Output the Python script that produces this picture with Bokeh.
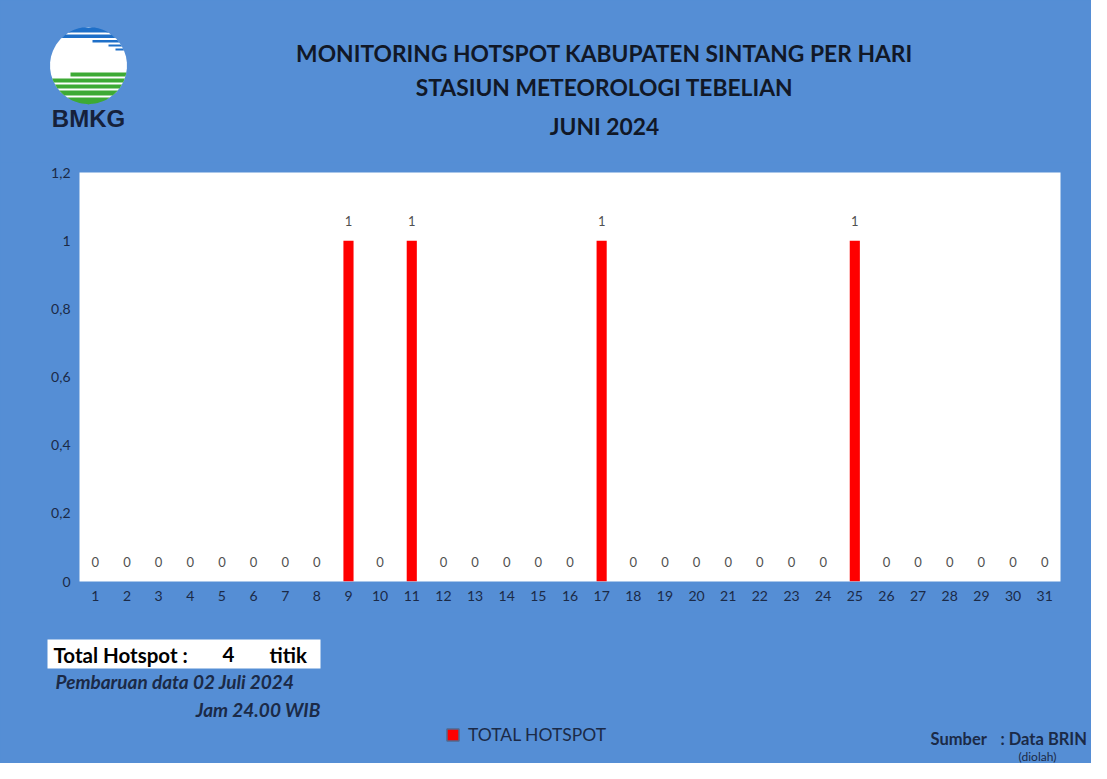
import numpy as np
from bokeh.plotting import figure
from bokeh.layouts import column
from bokeh.models import (ColumnDataSource, Range1d, FactorRange, FixedTicker, LabelSet,
                          Legend, LegendItem)
from bokeh.core.properties import value
from bokeh.embed import file_html
from bokeh.resources import INLINE

# ---------------- data ----------------
days = [str(d) for d in range(1, 32)]
hotspots = [0, 0, 0, 0, 0, 0, 0, 0, 1, 0, 1, 0, 0, 0, 0, 0, 1, 0, 0, 0,
            0, 0, 0, 0, 1, 0, 0, 0, 0, 0, 0]
y_ticks = [0, 0.2, 0.4, 0.6, 0.8, 1.0, 1.2]
y_tick_labels = ["0", "0,2", "0,4", "0,6", "0,8", "1", "1,2"]
title_lines = ["MONITORING HOTSPOT KABUPATEN SINTANG PER HARI",
               "STASIUN METEOROLOGI TEBELIAN",
               "JUNI 2024"]
series_name = "TOTAL HOTSPOT"
update_text = "Pembaruan data 02 Juli 2024"
time_text = "Jam 24.00 WIB"
total_hotspot = sum(hotspots)

BG = "#558ED5"
NAVY = "#1B2A47"
FONT = "Lato"
W = 1091

def deco_fig(y0, y1):
    f = figure(width=W, height=y1 - y0, output_backend="svg", toolbar_location=None,
               x_range=Range1d(8, 8 + W), y_range=Range1d(y1, y0),
               x_axis_location=None, y_axis_location=None, frame_align=False,
               min_border=0, min_border_left=0, min_border_right=0,
               min_border_top=0, min_border_bottom=0)
    f.background_fill_color = BG
    f.border_fill_color = BG
    f.outline_line_color = None
    f.grid.grid_line_color = None
    return f

def txt(f, x, y, s, size, style="normal", align="left", color=NAVY, font=FONT):
    f.text(x=[x], y=[y], text=[s], text_align=align, text_baseline="middle",
           text_font=value(font), text_font_style=style, text_font_size=size,
           text_color=color)

# ---------------- top: logo + titles ----------------
top = deco_fig(8, 170)
cx, cy, r = 96, 73, 38.5
def band(f, y1, y2, color, xmin=None):
    ys = np.linspace(y1, y2, 14)
    half = np.sqrt(np.clip(r**2 - (ys - cy)**2, 0, None))
    xl = cx - half
    if xmin is not None:
        xl = np.maximum(xl, xmin)
    xr = cx + half
    f.patch(list(xl) + list(xr[::-1]), list(ys) + list(ys[::-1]),
            fill_color=color, line_color=None)

band(top, cy - r, cy + r, "white")
band(top, 35, 40, "#1E6FC8")
band(top, 42, 45.5, "#1E6FC8")
band(top, 47.5, 50, "#1E6FC8", xmin=100)
band(top, 52, 54, "#1E6FC8", xmin=116)
band(top, 56, 58, "#1E6FC8", xmin=123)
for y1, y2, xm in [(80, 84, 78), (86, 90, None), (92, 96, None), (98, 103, None), (105, 112, None)]:
    band(top, y1, y2, "#3DAA35", xmin=xm)
txt(top, 96, 126, "BMKG", "24px", "bold", "center", "#16213A", "Liberation Sans")

for s, Y in zip(title_lines, [60, 94, 133]):
    txt(top, 612, Y, s, "22.8px", "bold", "center", "#111827")

# ---------------- main chart ----------------
FL, FR, FT, FBm = 79, 31, 10, 31
p = figure(width=W, height=620 - 170, output_backend="svg", toolbar_location=None,
           x_range=FactorRange(*days, range_padding=0), y_range=Range1d(0, 1.2),
           frame_align=False,
           min_border_left=FL, min_border_right=FR, min_border_top=FT, min_border_bottom=FBm)
p.background_fill_color = "white"
p.border_fill_color = BG
p.outline_line_color = None
p.grid.grid_line_color = None

src = ColumnDataSource(dict(day=days, val=hotspots, txt=[str(v) for v in hotspots]))
bars = p.vbar(x="day", top="val", width=0.32, source=src, fill_color="#FF0000", line_color=None)

p.add_layout(LabelSet(x="day", y="val", text="txt", source=src, y_offset=20,
                      text_align="center", text_baseline="middle", text_font=value(FONT),
                      text_font_size="13px", text_color="#505050"))

p.yaxis.ticker = FixedTicker(ticks=y_ticks)
p.yaxis.major_label_overrides = {t: l for t, l in zip(y_ticks, y_tick_labels)}
for ax in (p.xaxis[0], p.yaxis[0]):
    ax.axis_line_color = None
    ax.major_tick_line_color = None
    ax.minor_tick_line_color = None
    ax.major_tick_out = 0
    ax.major_tick_in = 0
    ax.major_label_text_font = FONT
    ax.major_label_text_font_size = "14px"
    ax.major_label_text_color = NAVY
p.yaxis.major_label_standoff = 9
p.xaxis.major_label_standoff = 9

# ---------------- bottom: totals, legend, source ----------------
bot = deco_fig(620, 771)
bot.quad(left=[55], right=[328], top=[647], bottom=[676], fill_color="white", line_color=None)
txt(bot, 61, 662, "Total Hotspot :", "20.5px", "bold", color="black")
txt(bot, 236, 662, str(total_hotspot), "20.5px", "bold", "center", color="black")
txt(bot, 277, 662, "titik", "20.5px", "bold", color="black")
txt(bot, 63, 689, update_text, "19px", "bold italic")
txt(bot, 328, 717, time_text, "19px", "bold italic", "right")

# legend swatch proxy (placed outside the visible range; only its style is used)
proxy = bot.quad(left=[-50], right=[-40], top=[-50], bottom=[-40], fill_color="#FF0000",
                 line_color="#4F6A8F", line_width=1.5)
legend = Legend(items=[LegendItem(label=series_name, renderers=[proxy])],
                location=(445, 18), background_fill_alpha=0, border_line_color=None,
                label_text_font=FONT, label_text_font_size="17.5px", label_text_color=NAVY,
                glyph_width=15, glyph_height=15, label_height=15, label_standoff=8,
                padding=0, margin=0)
bot.add_layout(legend)

txt(bot, 938, 746, "Sumber", "16.5px", "bold")
txt(bot, 1008, 746, ": Data BRIN", "16.5px", "bold")
txt(bot, 1045, 764, "(diolah)", "12px", "normal", "center")

layout = column(top, p, bot, spacing=0, styles={"background-color": BG})
open("out.html", "w").write(file_html(layout, INLINE))
